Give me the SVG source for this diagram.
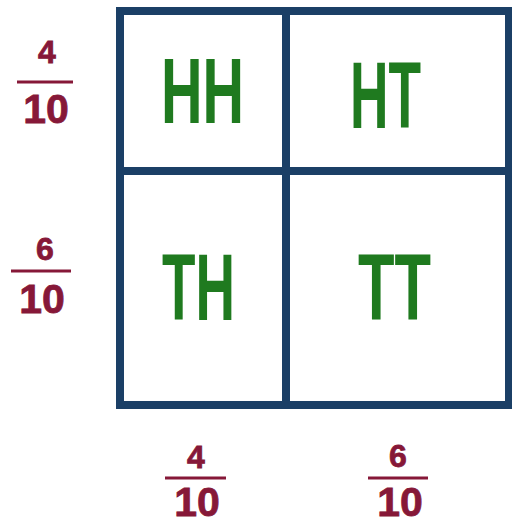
<svg xmlns="http://www.w3.org/2000/svg" width="512" height="525" viewBox="0 0 512 525">
<style>
.grid{fill:none;stroke:#1b3f66;stroke-width:8}
.gl{stroke:#1b3f66;stroke-width:8}
.cell{font-family:"Liberation Sans",Arial,sans-serif;font-weight:bold;fill:#1f7a1f}
.num{font-family:"Liberation Sans",Arial,sans-serif;font-weight:bold;fill:#861838;stroke:#861838;stroke-width:0.8;font-size:32px;text-anchor:middle}
.den{font-family:"Liberation Sans",Arial,sans-serif;font-weight:bold;fill:#861838;stroke:#861838;stroke-width:0.8;font-size:41px;text-anchor:middle}
.bar{stroke:#861838;stroke-width:3}
</style>
<rect width="512" height="525" fill="#ffffff"/>
<g id="grid">
<rect class="grid" x="120" y="11" width="389" height="394"/>
<line class="gl" x1="286" y1="11" x2="286" y2="405"/>
<line class="gl" x1="120" y1="171" x2="509" y2="171"/>
</g>
<g id="cell-hh"><text class="cell" x="161" y="123" font-size="93" textLength="83" lengthAdjust="spacingAndGlyphs">HH</text></g>
<g id="cell-ht"><text class="cell" x="350" y="128" font-size="95" textLength="71" lengthAdjust="spacingAndGlyphs">HT</text></g>
<g id="cell-th"><text class="cell" x="162" y="320" font-size="95" textLength="73" lengthAdjust="spacingAndGlyphs">TH</text></g>
<g id="cell-tt"><text class="cell" x="358" y="320" font-size="95" textLength="73" lengthAdjust="spacingAndGlyphs">TT</text></g>
<g id="row1-prob">
<text class="num" x="47" y="63">4</text>
<line class="bar" x1="17" y1="82" x2="73" y2="82"/>
<text class="den" x="46" y="123">10</text>
</g>
<g id="row2-prob">
<text class="num" x="45" y="260">6</text>
<line class="bar" x1="11" y1="271" x2="71" y2="271"/>
<text class="den" x="42" y="313">10</text>
</g>
<g id="col1-prob">
<text class="num" x="196" y="468">4</text>
<line class="bar" x1="165" y1="478" x2="226" y2="478"/>
<text class="den" x="197" y="516">10</text>
</g>
<g id="col2-prob">
<text class="num" x="398" y="467">6</text>
<line class="bar" x1="368" y1="478" x2="428" y2="478"/>
<text class="den" x="400" y="516">10</text>
</g>
</svg>
